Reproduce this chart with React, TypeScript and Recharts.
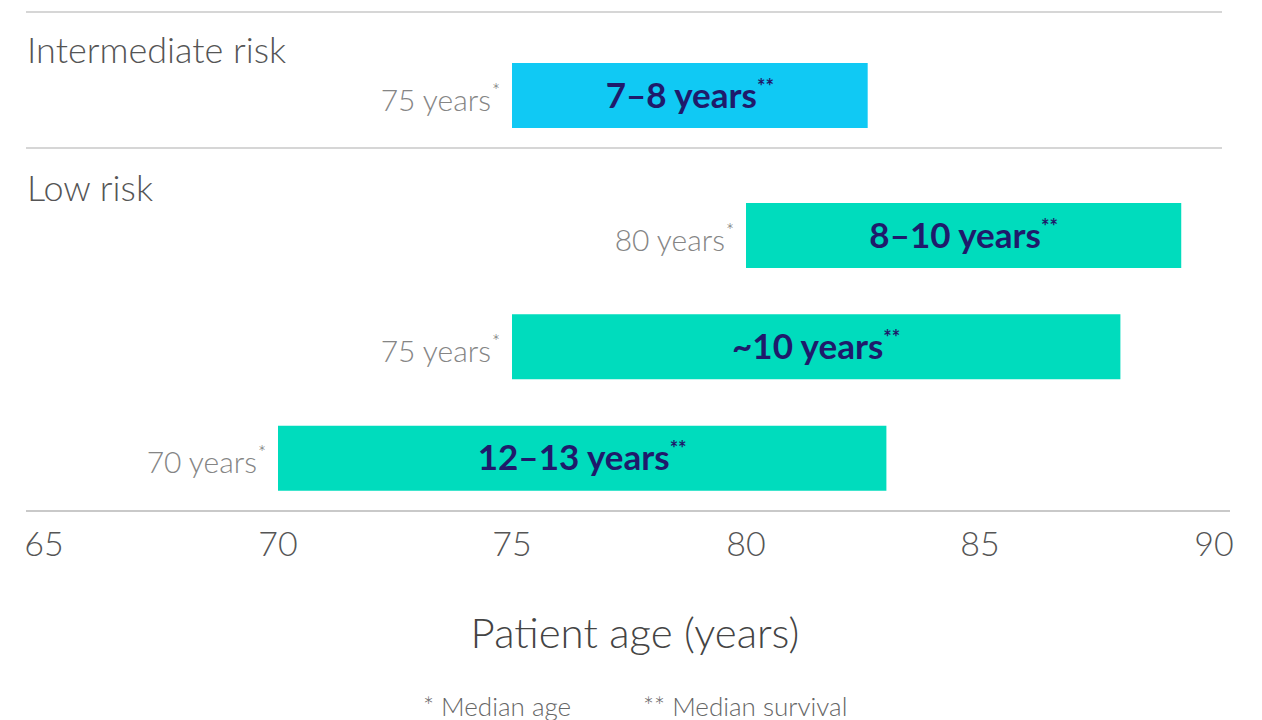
import { Bar, BarChart, CartesianGrid, LabelList, XAxis, YAxis } from "recharts";

const groupTitles = ["Intermediate risk", "Low risk"];

const intermediateNames = ["Intermediate, 75"];
const intermediateMedianAge = [75];
const intermediateEndAge = [82.6];
const intermediateSurvival = ["7–8 years"];

const lowNames = ["Low, 80", "Low, 75", "Low, 70"];
const lowMedianAge = [80, 75, 70];
const lowEndAge = [89.3, 88, 83];
const lowSurvival = ["8–10 years", "~10 years", "12–13 years"];

const xTicks = [65, 70, 75, 80, 85, 90];
const xTitle = "Patient age (years)";
const footnotes = ["* Median age", "** Median survival"];

const FONT = 'Lato, "Noto Sans", sans-serif';
const GRID = "#c9c9c9";

type Row = { name: string; age: number; range: [number, number]; survival: string };

const buildRows = (names: string[], ages: number[], ends: number[], survival: string[]): Row[] =>
  names.map((name, i) => ({ name, age: ages[i], range: [ages[i], ends[i]], survival: survival[i] }));

const intermediateRows = buildRows(intermediateNames, intermediateMedianAge, intermediateEndAge, intermediateSurvival);
const lowRows = buildRows(lowNames, lowMedianAge, lowEndAge, lowSurvival);

const SurvivalLabel = (props: any) => {
  const { x, y, width, height, value } = props;
  return (
    <text
      x={x + width / 2}
      y={y + height / 2 + 12}
      textAnchor="middle"
      fill="#1f1a6b"
      fontSize={35}
      fontWeight={700}
      fontFamily={FONT}
    >
      {value}
      <tspan fontSize={20} dy={-14}>
        **
      </tspan>
    </text>
  );
};

const AgeLabel = (props: any) => {
  const { x, y, height, value } = props;
  return (
    <text
      x={x - 12}
      y={y + height / 2 + 15}
      textAnchor="end"
      fill="#858585"
      fontSize={30}
      fontWeight={300}
      fontFamily={FONT}
    >
      {`${value} years`}
      <tspan fontSize={19} dy={-13} dx={1} fill="#666">
        *
      </tspan>
    </text>
  );
};

export default function App() {
  const headerStyle = {
    position: "absolute" as const,
    left: 27,
    fontSize: 36,
    fontWeight: 300,
    color: "#555",
    lineHeight: "44px",
  };
  return (
    <div style={{ position: "absolute", left: 0, top: 0, width: 1262, height: 720, fontFamily: FONT, background: "#fff" }}>
      <div style={{ ...headerStyle, top: 27 }}>{groupTitles[0]}</div>
      <div style={{ ...headerStyle, top: 165 }}>{groupTitles[1]}</div>

      <div style={{ position: "absolute", left: 0, top: 0 }}>
        <BarChart
          width={1262}
          height={150}
          data={intermediateRows}
          layout="vertical"
          margin={{ top: 12, right: 40, bottom: 2, left: 26 }}
        >
          <CartesianGrid vertical={false} horizontalPoints={[12, 148]} stroke={GRID} strokeWidth={1.5} />
          <XAxis type="number" domain={[65, 90]} hide padding={{ left: 18, right: 8 }} />
          <YAxis type="category" dataKey="name" hide padding={{ top: 31, bottom: 0 }} />
          <Bar dataKey="range" fill="#10c9f4" barSize={65} isAnimationActive={false}>
            <LabelList dataKey="survival" content={SurvivalLabel} />
            <LabelList dataKey="age" content={AgeLabel} />
          </Bar>
        </BarChart>
      </div>

      <div style={{ position: "absolute", left: 0, top: 150 }}>
        <BarChart
          width={1262}
          height={422}
          data={lowRows}
          layout="vertical"
          margin={{ top: 30, right: 32, bottom: 0, left: 26 }}
          barCategoryGap={0}
        >
          <XAxis
            type="number"
            domain={[65, 90]}
            ticks={xTicks}
            padding={{ left: 18, right: 16 }}
            height={61}
            axisLine={{ stroke: GRID, strokeWidth: 2 }}
            tickLine={false}
            tickMargin={15}
            tick={{ fill: "#555", fontSize: 34, fontWeight: 300, fontFamily: FONT }}
          />
          <YAxis type="category" dataKey="name" hide padding={{ top: 0, bottom: -3 }} />
          <Bar dataKey="range" fill="#00dcbd" barSize={65} isAnimationActive={false}>
            <LabelList dataKey="survival" content={SurvivalLabel} />
            <LabelList dataKey="age" content={AgeLabel} />
          </Bar>
        </BarChart>
      </div>

      <div
        style={{
          position: "absolute",
          left: 0,
          width: 1270,
          top: 606,
          textAlign: "center",
          fontSize: 42,
          fontWeight: 300,
          color: "#444",
          lineHeight: "52px",
        }}
      >
        {xTitle}
      </div>
      <div style={{ position: "absolute", left: 423, top: 690, fontSize: 26, fontWeight: 300, color: "#666", lineHeight: "32px" }}>
        {footnotes[0]}
      </div>
      <div style={{ position: "absolute", left: 643, top: 690, fontSize: 26, fontWeight: 300, color: "#666", lineHeight: "32px" }}>
        {footnotes[1]}
      </div>
    </div>
  );
}
